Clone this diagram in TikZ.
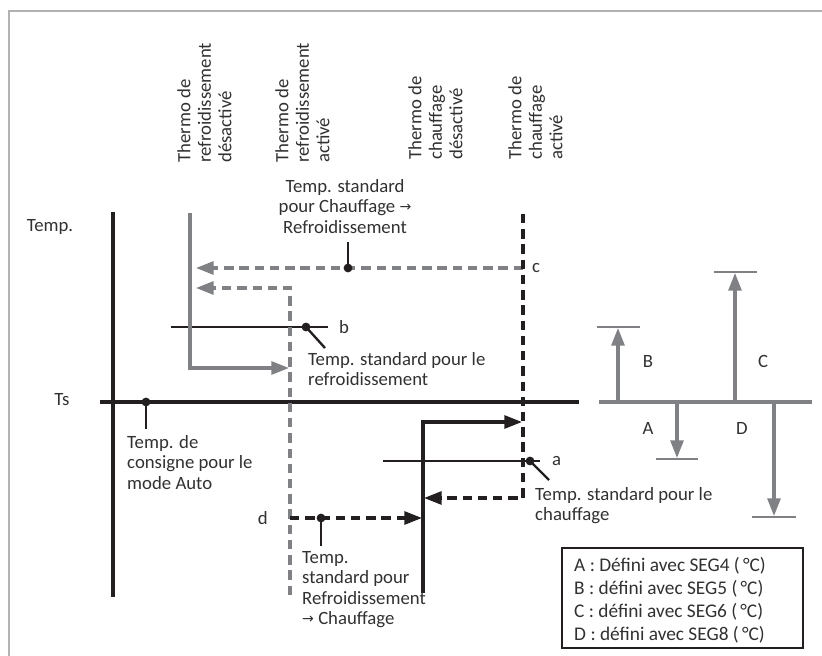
\documentclass[tikz,border=0pt]{standalone}
\usepackage{fontspec}
\setmainfont{Carlito}
\newfontfamily\fleche{DejaVu Sans}
\newcommand{\flch}{{\fleche\fontsize{12}{12}\selectfont\raisebox{1.2pt}{→}}}
\usetikzlibrary{arrows.meta, positioning, calc}
\definecolor{noir}{RGB}{35,31,32}
\definecolor{texte}{RGB}{50,48,49}
\definecolor{gris}{RGB}{128,129,132}
\definecolor{cadre}{RGB}{178,178,180}

\begin{document}
\begin{tikzpicture}[x=0.03cm, y=-0.03cm, font=\fontsize{16}{17.5}\selectfont, text=texte,
        lbl/.style={inner sep=0pt, align=left, anchor=north west},
        vlbl/.style={inner sep=0pt, align=left, rotate=90, anchor=north west},
        pointe/.style={-{Triangle[length=15pt, width=11pt]}},
        axe/.style={noir, line width=2.6pt},
        fin/.style={noir, line width=1pt},
        gristrait/.style={gris, line width=2.6pt},
        grisdash/.style={gris, line width=2.6pt, dash pattern=on 8pt off 5pt},
        noirdash/.style={noir, line width=2.6pt, dash pattern=on 8pt off 5pt},
        repere/.style={noir, line width=2pt},
        dot/.style={circle, fill=noir, inner sep=0pt, minimum size=7.5pt}
    ]
        \useasboundingbox (0,0) rectangle (822,656);
        \draw[cadre, line width=2.2pt] (9,656) |- (822,11);

        % etiquettes verticales
        \node[vlbl] (tfroidoff) at (177,163) {Thermo de\\refroidissement\\désactivé};
        \node[vlbl] (tfroidon)  at (275,163) {Thermo de\\refroidissement\\activé};
        \node[vlbl] (tchaudoff) at (408,160) {Thermo de\\chauffage\\désactivé};
        \node[vlbl] (tchaudon)  at (508,160) {Thermo de\\chauffage\\activé};

        % axes
        \coordinate (axeh) at (113,212);
        \coordinate (axeb) at (113,597);
        \coordinate (tsg) at (100,402);
        \coordinate (tsd) at (579,402);
        \draw[axe] (axeh) -- (axeb);
        \draw[axe] (tsg) -- (tsd);
        \node (temp) at (50,227) {Temp.};
        \node (ts) at (62,400) {Ts};

        % seuils
        \coordinate (bg) at (171,327);
        \coordinate (bd) at (328,327);
        \coordinate (ag) at (383,461);
        \coordinate (ad) at (540,461);
        \draw[fin] (bg) -- (bd);
        \draw[fin] (ag) -- (ad);
        \node[anchor=west, inner sep=0pt] (b) at (339,327) {b};
        \node[anchor=west, inner sep=0pt] (a) at (552,461) {a};
        \node[anchor=west, inner sep=0pt] (c) at (532,268) {c};
        \node[anchor=east, inner sep=0pt] (d) at (268,518) {d};

        % refroidissement
        \draw[gristrait, pointe] (190,213) |- (289,368);
        \draw[grisdash, pointe] (290,595) |- (196,288);
        \draw[grisdash, pointe] (523,268) -- (196,268);

        % chauffage
        \draw[noirdash, pointe] (523,214) |- (424,498);
        \draw[axe, pointe] (423,593) |- (522,422);
        \draw[noirdash, pointe] (290,518) -- (422,518);

        % points et reperes
        \node[dot] (pc) at (348,268) {};
        \node[dot] (pb) at (306,327) {};
        \node[dot] (pts) at (146,402) {};
        \node[dot] (pa) at (530,461) {};
        \node[dot] (pd) at (321,518) {};
        \draw[repere] (pc.center) -- (348,242);
        \draw[repere] (pb.center) -- (325,348);
        \draw[repere] (pts.center) -- (146,429);
        \draw[repere] (pa.center) -- (549,480);
        \draw[repere] (pd.center) -- (321,546);

        % textes
        \node[lbl, align=center, anchor=north] (stdcr) at (345,179)
            {Temp. standard\\pour Chauffage \flch\\Refroidissement};
        \node[lbl] (stdr) at (308,352) {Temp. standard pour le\\refroidissement};
        \node[lbl] (cons) at (127,435) {Temp. de\\consigne pour le\\mode Auto};
        \node[lbl] (stdc) at (535,487) {Temp. standard pour le\\chauffage};
        \node[lbl] (stdrc) at (302,551) {Temp.\\standard pour\\Refroidissement\\\flch\ Chauffage};

        % ecarts
        \draw[gris, line width=2.6pt] (599,402) -- (812,402);
        \draw[gristrait, pointe] (618,402) -- (618,328);
        \draw[gristrait, pointe] (735,402) -- (735,273);
        \draw[gristrait, pointe] (677,402) -- (677,458);
        \draw[gristrait, pointe] (774,402) -- (774,516);
        \draw[gris, line width=1.3pt] (597,327) -- (640,327);
        \draw[gris, line width=1.3pt] (714,272) -- (757,272);
        \draw[gris, line width=1.3pt] (656,459) -- (698,459);
        \draw[gris, line width=1.3pt] (752,517) -- (796,517);
        \node (lb) at (648,361) {B};
        \node (lc) at (763,361) {C};
        \node (la) at (648,428) {A};
        \node (ld) at (742,428) {D};

        % legende
        \draw[noir, line width=1.1pt] (562,548) rectangle (803,648);
        \node[lbl, font=\fontsize{16.5}{19.6}\selectfont] (leg) at (574,557)
            {A : Défini avec SEG4 (\,°C)\\B : défini avec SEG5 (\,°C)\\C : défini avec SEG6 (\,°C)\\D : défini avec SEG8 (\,°C)};
    \end{tikzpicture}
\end{document}
